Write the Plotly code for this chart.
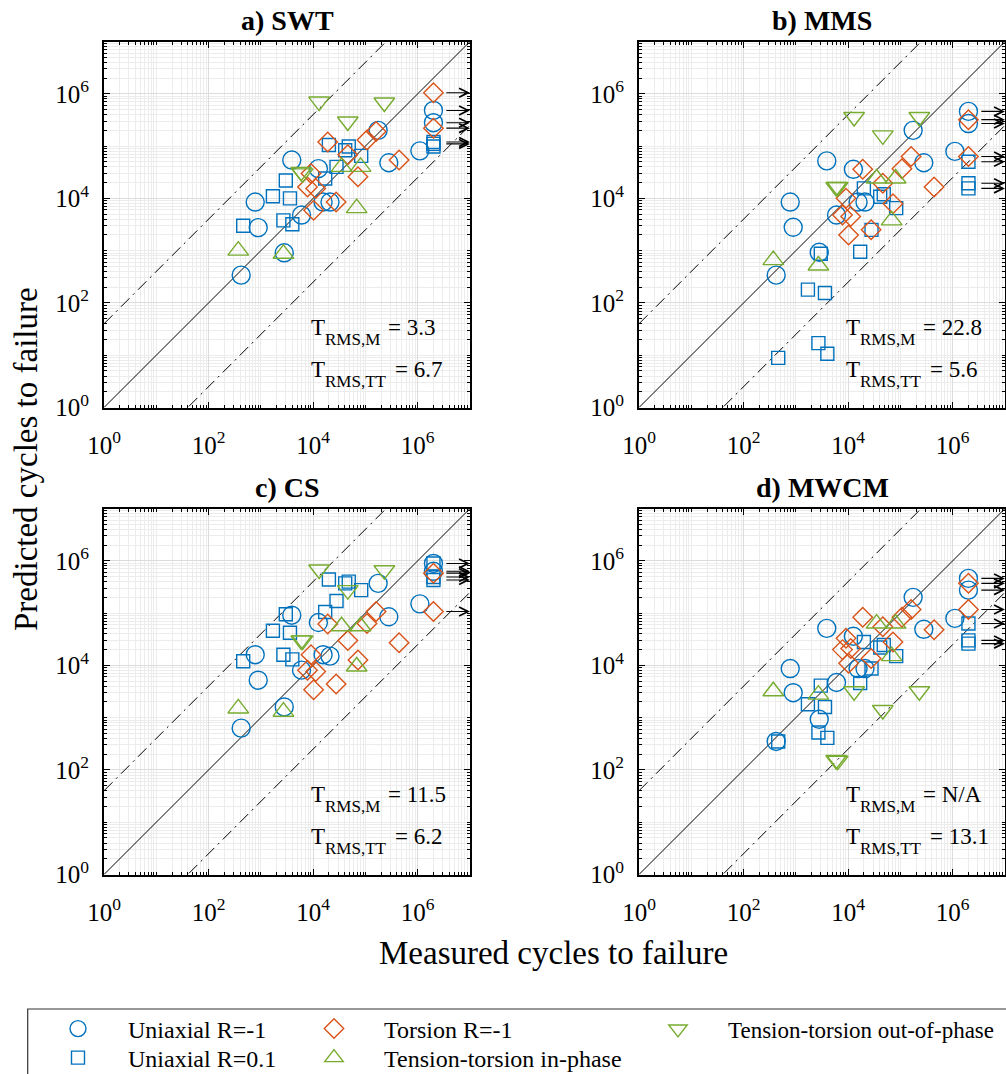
import numpy as np
import plotly.graph_objects as go

W, H = 1006, 1074
FONT = "Liberation Serif, Times New Roman, serif"

# ---------------- data ----------------
# measured cycles to failure (common to all four criteria)
meas_uni_m1 = [4.2e2, 7.8e2, 8.9e2, 2.8e3, 3.9e3, 6.0e3, 1.26e4, 1.55e4, 2.1e4, 1.75e5, 2.8e5, 1.1e6, 2.0e6, 2.0e6]
meas_uni_01 = [4.6e2, 1.7e3, 3.0e3, 3.6e3, 2.7e3, 4.0e3, 2.0e4, 1.7e4, 2.8e4, 4.1e4, 4.8e4, 8.3e4, 2.0e6, 2.0e6, 2.0e6]
meas_tor = [2.0e6, 2.0e6, 1.6e5, 1.07e5, 1.9e4, 4.6e4, 7.2e4, 4.4e5, 9.1e3, 7.8e3, 1.12e4, 1.02e4, 2.75e4]
meas_ip = [3.7e2, 2.7e3, 3.5e4, 8.1e4, 6.8e4]
meas_oop = [1.3e4, 2.3e5, 4.6e4, 5.9e3, 6.3e3]

# predicted cycles to failure, per criterion
pred_uni_m1 = {
    "SWT": [3.4e2, 8.5e3, 2.75e3, 9.1e2, 5.4e4, 4.8e3, 3.7e4, 8.5e3, 8.5e3, 2.0e5, 4.8e4, 8.1e4, 4.8e5, 2.8e5],
    "MMS": [3.4e2, 8.5e3, 2.8e3, 9.3e2, 5.2e4, 4.8e3, 3.6e4, 8.5e3, 8.5e3, 2.0e5, 4.8e4, 7.9e4, 4.6e5, 2.7e5],
    "CS": [6.3e2, 1.6e4, 5.2e3, 1.6e3, 9.1e4, 8.1e3, 6.6e4, 1.6e4, 1.5e4, 3.7e5, 8.5e4, 1.5e5, 8.9e5, 6.3e5],
    "MWCM": [3.5e2, 8.7e3, 3.0e3, 9.3e2, 5.1e4, 4.7e3, 3.6e4, 8.7e3, 8.7e3, 2.0e5, 4.9e4, 7.9e4, 4.6e5, 2.75e5],
}
pred_uni_01 = {
    "SWT": [3.0e3, 1.1e4, 2.2e4, 1.0e4, 3.8e3, 3.2e3, 1.05e5, 2.4e4, 4.0e4, 8.3e4, 9.8e4, 6.5e4, 1.2e5, 1.1e5, 9.8e4],
    "MMS": [8.9, 1.8e2, 8.7e2, 1.55e2, 17, 10.7, 1.55e4, 9.5e2, 2.5e3, 1.07e4, 1.2e4, 6.5e3, 5.0e4, 1.95e4, 1.55e4],
    "CS": [1.2e4, 4.6e4, 9.5e4, 4.2e4, 1.6e4, 1.3e4, 4.4e5, 1.05e5, 1.7e5, 3.7e5, 4.0e5, 2.75e5, 8.9e5, 4.9e5, 4.3e5],
    "MWCM": [3.5e2, 1.8e3, 4.1e3, 1.6e3, 5.2e2, 4.1e2, 2.8e4, 4.6e3, 8.7e3, 2.2e4, 2.45e4, 1.5e4, 6.3e4, 3.0e4, 2.6e4],
}
pred_tor = {
    "SWT": [1.05e6, 2.2e5, 1.9e5, 1.3e5, 1.2e5, 6.8e4, 2.6e4, 5.4e4, 3.0e4, 1.65e4, 1.55e4, 5.9e3, 8.5e3],
    "MMS": [3.2e5, 6.3e4, 6.3e4, 3.7e4, 3.6e4, 1.95e4, 7.9e3, 1.65e4, 1.0e4, 4.8e3, 4.5e3, 2.0e3, 2.5e3],
    "CS": [5.8e5, 1.07e5, 1.07e5, 6.3e4, 6.2e4, 3.0e4, 1.26e4, 2.7e4, 1.6e4, 8.1e3, 7.6e3, 3.4e3, 4.4e3],
    "MWCM": [3.7e5, 1.17e5, 1.17e5, 8.3e4, 8.3e4, 5.5e4, 2.8e4, 4.8e4, 3.3e4, 2.0e4, 2.1e4, 1.1e4, 1.35e4],
}
pred_ip = {
    "SWT": [1.0e3, 8.7e2, 4.0e4, 4.0e4, 6.5e3],
    "MMS": [6.6e2, 5.2e2, 2.4e4, 2.4e4, 3.8e3],
    "CS": [1.5e3, 1.3e3, 5.6e4, 5.6e4, 9.5e3],
    "MWCM": [3.2e3, 2.75e3, 6.3e4, 6.3e4, 1.5e4],
}
pred_oop = {
    "SWT": [7.1e5, 6.8e5, 2.95e5, 3.2e4, 3.0e4],
    "MMS": [3.6e5, 3.6e5, 1.6e5, 1.65e4, 1.65e4],
    "CS": [6.8e5, 6.6e5, 2.75e5, 3.0e4, 3.0e4],
    "MWCM": [3.2e3, 3.2e3, 1.4e3, 1.55e2, 1.5e2],
}
# run-out arrows (predicted level), from / to measured cycles
runout_y = {
    "SWT": [1.05e6, 4.8e5, 2.8e5, 2.2e5, 1.2e5, 1.1e5],
    "MMS": [4.6e5, 3.2e5, 2.7e5, 6.3e4, 5.0e4, 1.95e4, 1.55e4],
    "CS": [8.9e5, 6.3e5, 5.8e5, 4.9e5, 4.3e5, 1.07e5],
    "MWCM": [4.6e5, 3.7e5, 2.75e5, 1.17e5, 6.3e4, 3.0e4, 2.6e4],
}
runout_x = [3.3e6, 1.0e7]

criteria = ["SWT", "MMS", "CS", "MWCM"]
titles = ["a) SWT", "b) MMS", "c) CS", "d) MWCM"]
t_rms_m = ["3.3", "22.8", "11.5", "N/A"]
t_rms_tt = ["6.7", "5.6", "6.2", "13.1"]
scatter_band = [1.0, 40.0]
axis_limits = [1.0, 1.0e7]
label_exponents = [0, 2, 4, 6]

# ---------------- styles ----------------
BLUE, ORANGE, GREEN = "#0072BD", "#D95319", "#77AC30"
series = [
    ("Uniaxial R=-1", meas_uni_m1, pred_uni_m1, "circle-open", 18, BLUE, "legend"),
    ("Uniaxial R=0.1", meas_uni_01, pred_uni_01, "square-open", 13, BLUE, "legend2"),
    ("Torsion R=-1", meas_tor, pred_tor, "diamond-open", 15, ORANGE, "legend3"),
    ("Tension-torsion in-phase", meas_ip, pred_ip, "triangle-up-open", 18, GREEN, "legend4"),
    ("Tension-torsion out-of-phase", meas_oop, pred_oop, "triangle-down-open", 18, GREEN, "legend5"),
]
# legend slots in pixels: (left, row centre, font size)
legend_slots = {"legend": (28, 1029, 24), "legend2": (28, 1058, 24), "legend3": (284, 1029, 24),
                "legend4": (284, 1058, 24), "legend5": (628, 1029, 23)}

# panel geometry in pixels: left, right, top, bottom
panels = [(104, 470, 41.5, 407.5), (639, 1005, 41.5, 407.5),
          (104, 470, 508.5, 874.5), (639, 1005, 508.5, 874.5)]


def px(x):
    return x / W


def py(y):
    return 1 - y / H


fig = go.Figure()

for i, crit in enumerate(criteria):
    xa = "x" if i == 0 else f"x{i+1}"
    ya = "y" if i == 0 else f"y{i+1}"
    lo, hi = axis_limits
    fig.add_trace(go.Scatter(x=[lo, hi], y=[lo, hi], mode="lines", xaxis=xa, yaxis=ya,
                             line=dict(color="black", width=1), showlegend=False, hoverinfo="skip"))
    for f in (scatter_band[1], 1.0 / scatter_band[1]):
        fig.add_trace(go.Scatter(x=[lo, hi], y=[lo * f, hi * f], mode="lines", xaxis=xa, yaxis=ya,
                                 line=dict(color="black", width=1, dash="12px,5px,2px,5px"),
                                 showlegend=False, hoverinfo="skip"))
    for name, mx, pdict, sym, size, col, lg in series:
        fig.add_trace(go.Scatter(
            x=mx, y=pdict[crit], mode="markers", xaxis=xa, yaxis=ya, name=name,
            marker=dict(symbol=sym, size=size, color=col, line=dict(width=1.4, color=col)),
            showlegend=(i == 0), legend=lg))
    for yv in runout_y[crit]:
        fig.add_annotation(x=np.log10(runout_x[1]), y=np.log10(yv),
                           ax=np.log10(runout_x[0]), ay=np.log10(yv),
                           xref=xa, yref=ya, axref=xa, ayref=ya, text="",
                           showarrow=True, arrowhead=5, arrowsize=1.6, arrowwidth=1.1,
                           arrowcolor="black", standoff=0)

tickvals = [10 ** k for k in label_exponents]
ticktext = [f"10<sup>{k}</sup>" for k in label_exponents]
minorvals = [m * 10 ** k for k in range(7) for m in range(1, 10)
             if not (m == 1 and k in label_exponents)] + [1e7]


def axis_common(domain, standoff):
    return dict(type="log", range=[0, 7], domain=domain, tickmode="array",
                tickvals=tickvals, ticktext=ticktext, ticks="inside", ticklen=6,
                tickwidth=1, tickcolor="black", showline=True, linewidth=2,
                linecolor="black", mirror="allticks", showgrid=True,
                gridcolor="#dcdcdc", gridwidth=1, zeroline=False, automargin=False,
                tickfont=dict(family=FONT, size=25, color="black"),
                ticklabelstandoff=standoff,
                minor=dict(tickmode="array", tickvals=minorvals, ticks="inside", ticklen=3,
                           tickcolor="black", tickwidth=1, showgrid=True,
                           gridcolor="#ececec", gridwidth=1))


layout = dict(width=W, height=H, margin=dict(l=0, r=0, t=0, b=0, autoexpand=False),
              paper_bgcolor="white", plot_bgcolor="white", autosize=False)
for i, (L, R, T, B) in enumerate(panels):
    sx = "" if i == 0 else str(i + 1)
    xa = axis_common([px(L), px(R)], 14)
    ya = axis_common([py(B), py(T)], 8)
    xa["anchor"] = "y" + sx
    ya["anchor"] = "x" + sx
    layout["xaxis" + sx] = xa
    layout["yaxis" + sx] = ya

for lg, (lx, ly, fs) in legend_slots.items():
    layout[lg] = dict(x=px(lx), y=py(ly), xanchor="left", yanchor="middle", orientation="v",
                      bgcolor="rgba(0,0,0,0)", borderwidth=0, itemwidth=90,
                      font=dict(family=FONT, size=fs, color="black"))
fig.update_layout(**layout)

# legend frame
fig.add_shape(type="rect", xref="paper", yref="paper", x0=px(27.7), x1=1.02,
              y0=-0.02, y1=py(1009), line=dict(color="#333333", width=1.2))

for i, (L, R, T, B) in enumerate(panels):
    fig.add_annotation(x=px((L + R) / 2), y=py(T - 21), xref="paper", yref="paper",
                       text=f"<b>{titles[i]}</b>", showarrow=False, xanchor="center", yanchor="middle",
                       font=dict(family=FONT, size=28, color="black"))
    for j, (sub, val) in enumerate([("RMS,M", t_rms_m[i]), ("RMS,TT", t_rms_tt[i])]):
        base = B - (72 if j == 0 else 30)
        x0 = L + 205
        fig.add_annotation(x=px(x0), y=py(base - 0.3375 * 23), xref="paper", yref="paper",
                           text="T", showarrow=False, xanchor="left", yanchor="middle",
                           font=dict(family=FONT, size=23, color="black"))
        fig.add_annotation(x=px(x0 + 14), y=py(base + 10 - 0.3375 * 17), xref="paper", yref="paper",
                           text=sub, showarrow=False, xanchor="left", yanchor="middle",
                           font=dict(family=FONT, size=17, color="black"))
        fig.add_annotation(x=px(L + (282 if j == 0 else 289)), y=py(base - 0.3375 * 23),
                           xref="paper", yref="paper", text=f"= {val}", showarrow=False,
                           xanchor="left", yanchor="middle",
                           font=dict(family=FONT, size=23, color="black"))

fig.add_annotation(x=px(26), y=py(459), xref="paper", yref="paper", text="Predicted cycles to failure",
                   textangle=-90, showarrow=False, xanchor="center", yanchor="middle",
                   font=dict(family=FONT, size=33, color="black"))
fig.add_annotation(x=px(553), y=py(953), xref="paper", yref="paper", text="Measured cycles to failure",
                   showarrow=False, xanchor="center", yanchor="middle",
                   font=dict(family=FONT, size=33, color="black"))

# the figure fills the whole 1006x1074 page: drop the default body margin
fig.write_html("out.html", config={"displayModeBar": False},
               post_script="document.body.style.margin='0';"
                           "document.documentElement.style.overflow='hidden';")
